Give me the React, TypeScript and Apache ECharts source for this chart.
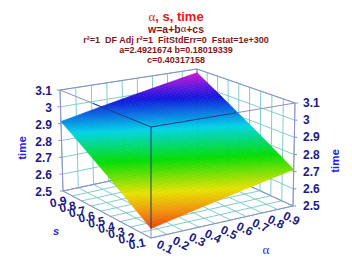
import React, { useEffect, useRef } from "react";
import * as echarts from "echarts";

const titleMain = "{g|α}, s, time";
const titleEq = "w=a+b{g|α}+cs";
const titleStats = "r²=1  DF Adj r²=1  FitStdErr=0  Fstat=1e+300";
const titleCoefAB = "a=2.4921674 b=0.18019339";
const titleCoefC = "c=0.40317158";

const alphaTicks = [0.1, 0.2, 0.3, 0.4, 0.5, 0.6, 0.7, 0.8, 0.9];
const sTicks = [0.1, 0.2, 0.3, 0.4, 0.5, 0.6, 0.7, 0.8, 0.9];
const zTicks = [2.5, 2.6, 2.7, 2.8, 2.9, 3, 3.1];
const alphaGrid = [0.1, 0.2, 0.3, 0.4, 0.5, 0.6, 0.7, 0.8, 0.9, 1];
const sGrid = [0.1, 0.2, 0.3, 0.4, 0.5, 0.6, 0.7, 0.8, 0.9, 1];
// time at (sGrid row, alphaGrid column)
const timeValues = [
  [2.551, 2.569, 2.587, 2.605, 2.623, 2.641, 2.659, 2.677, 2.695, 2.713],
  [2.591, 2.609, 2.627, 2.645, 2.663, 2.681, 2.699, 2.717, 2.735, 2.753],
  [2.631, 2.649, 2.667, 2.685, 2.703, 2.721, 2.739, 2.757, 2.775, 2.793],
  [2.671, 2.689, 2.708, 2.726, 2.744, 2.762, 2.78, 2.798, 2.816, 2.834],
  [2.712, 2.73, 2.748, 2.766, 2.784, 2.802, 2.82, 2.838, 2.856, 2.874],
  [2.752, 2.77, 2.788, 2.806, 2.824, 2.842, 2.86, 2.878, 2.896, 2.914],
  [2.792, 2.81, 2.829, 2.847, 2.865, 2.883, 2.901, 2.919, 2.937, 2.955],
  [2.833, 2.851, 2.869, 2.887, 2.905, 2.923, 2.941, 2.959, 2.977, 2.995],
  [2.873, 2.891, 2.909, 2.927, 2.945, 2.963, 2.981, 2.999, 3.017, 3.035],
  [2.913, 2.931, 2.95, 2.968, 2.986, 3.004, 3.022, 3.04, 3.058, 3.076],
];

type P = [number, number];
// corners in order: (a0,s0) front, (a1,s0) right, (a1,s1) back, (a0,s1) left
const floorQuad: P[] = [[151, 238], [293, 206], [198, 162], [63, 191]];
const topQuad: P[] = [[151, 127], [295, 103], [197, 69], [60, 90]];

function homography(q: P[]) {
  const [[x0, y0], [x1, y1], [x2, y2], [x3, y3]] = q;
  const dx1 = x1 - x2, dx2 = x3 - x2, sx = x0 - x1 + x2 - x3;
  const dy1 = y1 - y2, dy2 = y3 - y2, sy = y0 - y1 + y2 - y3;
  const det = dx1 * dy2 - dx2 * dy1;
  const g = (sx * dy2 - dx2 * sy) / det;
  const h = (dx1 * sy - sx * dy1) / det;
  const a = x1 - x0 + g * x1, b = x3 - x0 + h * x3, c = x0;
  const d = y1 - y0 + g * y1, e = y3 - y0 + h * y3, f = y0;
  return (u: number, v: number): P => {
    const w = g * u + h * v + 1;
    return [(a * u + b * v + c) / w, (d * u + e * v + f) / w];
  };
}
const floorMap = homography(floorQuad);
const topMap = homography(topQuad);
const A0 = 0.1, A1 = 1, S0 = 0.1, S1 = 1, Z0 = 2.5, Z1 = 3.1;
function project(alpha: number, s: number, z: number): P {
  const u = (alpha - A0) / (A1 - A0);
  const v = (s - S0) / (S1 - S0);
  const t = (z - Z0) / (Z1 - Z0);
  const b = floorMap(u, v);
  const o = topMap(u, v);
  return [b[0] + (o[0] - b[0]) * t, b[1] + (o[1] - b[1]) * t];
}

const rainbow: [number, number, number, number][] = [
  [0, 240, 70, 10],
  [0.1, 245, 150, 10],
  [0.21, 235, 230, 0],
  [0.41, 0, 225, 0],
  [0.61, 0, 215, 235],
  [0.82, 15, 20, 225],
  [0.92, 120, 20, 225],
  [1, 215, 15, 215],
];
const colorOf = (w: number) => {
  const t = Math.max(0, Math.min(1, (w - 2.551) / (3.076 - 2.551)));
  for (let i = 1; i < rainbow.length; i++) {
    if (t <= rainbow[i][0]) {
      const a = rainbow[i - 1], b = rainbow[i];
      const f = (t - a[0]) / (b[0] - a[0]);
      return [1, 2, 3].map((k) => a[k] + (b[k] - a[k]) * f);
    }
  }
  return rainbow[rainbow.length - 1].slice(1);
};
const rgb = (c: number[], k = 1) =>
  `rgb(${c.map((v) => Math.round(v * k)).join(",")})`;

const BOX = "#8e8ecb";
const GRID = "#84cccc";
const DARK = "#1c3f86";
const NAVY = "#1a1a84";
const BLUE = "#2222f0";
const seg = (p: P, q: P, stroke: string, lineWidth = 1) => ({
  type: "line",
  shape: { x1: p[0], y1: p[1], x2: q[0], y2: q[1] },
  style: { stroke, lineWidth },
  silent: true,
});
const lerp = (p: P, q: P, t: number): P => [p[0] + (q[0] - p[0]) * t, p[1] + (q[1] - p[1]) * t];
const label = (text: string, x: number, y: number, font: string, fill: string, align = "center", rotation = 0) => ({
  type: "text",
  x,
  y,
  rotation,
  silent: true,
  style: { text, x: 0, y: 0, font, fill, align, verticalAlign: "middle" },
});
const TICK_FONT = "bold 12px 'Liberation Sans'";

const custom = (data: any[], renderItem: any) => ({
  type: "custom",
  coordinateSystem: "none",
  silent: true,
  data,
  renderItem,
});

const heading = (text: string, top: number, size: number, color: string) => ({
  text,
  left: "center",
  top,
  padding: 0,
  textStyle: {
    color,
    fontFamily: "Liberation Sans",
    fontWeight: "bold",
    fontSize: size,
    lineHeight: size + 1,
    rich: {
      g: { fontFamily: "Liberation Serif", fontWeight: "normal", fontSize: size, color },
    },
  },
});

const surfaceCells: number[][] = [];
sGrid.forEach((s, j) =>
  alphaGrid.forEach((a, i) => {
    surfaceCells.push([i, j, a, s, timeValues[j][i]]);
  })
);
const SUB = 5;

export default function App() {
  const ref = useRef<HTMLDivElement>(null);
  useEffect(() => {
    const chart = echarts.init(ref.current!, undefined, { renderer: "svg" });
    const series = [
      // wall and floor grid, constant alpha
      custom(alphaGrid.map((v) => [v]), (_: any, api: any) => {
        const a = api.value(0);
        return {
          type: "group",
          children: [
            seg(project(a, S0, Z0), project(a, S1, Z0), GRID),
            seg(project(a, S1, Z0), project(a, S1, Z1), GRID),
          ],
        };
      }),
      custom(sGrid.map((v) => [v]), (_: any, api: any) => {
        const s = api.value(0);
        return {
          type: "group",
          children: [
            seg(project(A0, s, Z0), project(A1, s, Z0), GRID),
            seg(project(A1, s, Z0), project(A1, s, Z1), GRID),
          ],
        };
      }),
      custom(zTicks.map((v) => [v]), (_: any, api: any) => {
        const z = api.value(0);
        const l = project(A0, S1, z);
        const r = project(A1, S0, z);
        return {
          type: "group",
          children: [
            seg(l, project(A1, S1, z), GRID),
            seg(project(A1, S1, z), r, GRID),
            seg([l[0] - 3, l[1]], l, BOX),
            seg(r, [r[0] + 3, r[1]], BOX),
            label(String(z), 52, l[1] + 1, TICK_FONT, NAVY, "right"),
            label(String(z), 303, r[1], TICK_FONT, NAVY, "left"),
          ],
        };
      }),
      // box
      custom([[0]], () => {
        const c = (a: number, s: number, z: number) => project(a, s, z);
        return {
          type: "group",
          children: [
            seg(c(A0, S0, Z0), c(A1, S0, Z0), BOX),
            seg(c(A0, S0, Z0), c(A0, S1, Z0), BOX),
            seg(c(A0, S1, Z0), c(A1, S1, Z0), BOX),
            seg(c(A1, S0, Z0), c(A1, S1, Z0), BOX),
            seg(c(A0, S1, Z1), c(A1, S1, Z1), BOX),
            seg(c(A1, S0, Z1), c(A1, S1, Z1), BOX),
            seg(c(A0, S0, Z1), c(A0, S1, Z1), BOX),
            seg(c(A0, S0, Z1), c(A1, S0, Z1), BOX),
            seg(c(A0, S1, Z0), c(A0, S1, Z1), BOX),
            seg(c(A1, S0, Z0), c(A1, S0, Z1), BOX),
            seg(c(A1, S1, Z0), c(A1, S1, Z1), BOX),
            seg(c(A0, S0, Z0), c(A0, S0, Z1), BOX),
          ],
        };
      }),
      // surface
      custom(surfaceCells, (_: any, api: any) => {
        const i = api.value(0), j = api.value(1);
        if (i >= alphaGrid.length - 1 || j >= sGrid.length - 1) return null;
        const a0 = alphaGrid[i], a1 = alphaGrid[i + 1];
        const s0 = sGrid[j], s1 = sGrid[j + 1];
        const w00 = timeValues[j][i], w10 = timeValues[j][i + 1];
        const w01 = timeValues[j + 1][i], w11 = timeValues[j + 1][i + 1];
        const at = (u: number, v: number): P => {
          const w = w00 * (1 - u) * (1 - v) + w10 * u * (1 - v) + w01 * (1 - u) * v + w11 * u * v;
          return project(a0 + (a1 - a0) * u, s0 + (s1 - s0) * v, w);
        };
        const children: any[] = [];
        for (let m = 0; m < SUB; m++) {
          for (let n = 0; n < SUB; n++) {
            const u = m / SUB, v = n / SUB, d = 1 / SUB;
            const um = u + d / 2, vm = v + d / 2;
            const wm = w00 * (1 - um) * (1 - vm) + w10 * um * (1 - vm) + w01 * (1 - um) * vm + w11 * um * vm;
            const col = colorOf(wm);
            children.push({
              type: "polygon",
              silent: true,
              shape: { points: [at(u, v), at(u + d, v), at(u + d, v + d), at(u, v + d)] },
              style: { fill: rgb(col), stroke: rgb(col, 0.94), lineWidth: 0.5 },
            });
          }
        }
        return { type: "group", children };
      }),
      // front box edges seen over the surface
      custom([[0]], () => {
        const ft = project(A0, S0, Z1);
        const fb = project(A0, S0, timeValues[0][0]);
        const lt = project(A0, S1, Z1);
        const rt = project(A1, S0, Z1);
        return {
          type: "group",
          children: [
            seg(ft, fb, DARK),
            seg(lerp(lt, ft, 0.36), ft, DARK),
            seg(lerp(rt, ft, 0.41), ft, DARK),
          ],
        };
      }),
      // alpha tick labels
      custom(alphaTicks.map((v) => [v]), (_: any, api: any) => {
        const a = api.value(0);
        const p = project(a, S0, Z0);
        return label(a.toFixed(1), p[0] + 14, p[1] + 9, TICK_FONT, NAVY, "center", -0.45);
      }),
      // s tick labels, drawn from the far end so that low values sit on top
      custom([...sTicks].reverse().map((v) => [v]), (_: any, api: any) => {
        const s = api.value(0);
        const p = project(A0, s, Z0);
        return label(s.toFixed(1), p[0] - 14, p[1] + 6, TICK_FONT, NAVY, "center", 0.2);
      }),
      // axis names
      custom([[0]], () => ({
        type: "group",
        children: [
          label("time", 22, 148, "bold 11.5px 'Liberation Sans'", BLUE, "center", Math.PI / 2),
          label("time", 335, 161, "bold 11.5px 'Liberation Sans'", BLUE, "center", Math.PI / 2),
          label("s", 56, 231, "italic bold 11px 'Liberation Sans'", BLUE),
          label("α", 266, 249, "13px 'Liberation Serif'", BLUE),
        ],
      })),
    ];
    chart.setOption({
      animation: false,
      backgroundColor: "#ffffff",
      title: [
        heading(titleMain, 9, 13, "#f01414"),
        heading(titleEq, 23, 10.5, "#801818"),
        heading(titleStats, 34.5, 9, "#801818"),
        heading(titleCoefAB, 45, 9, "#801818"),
        heading(titleCoefC, 55, 9, "#801818"),
      ],
      series,
    });
    return () => chart.dispose();
  }, []);
  return <div ref={ref} style={{ position: "fixed", left: 0, top: 0, width: 352, height: 264 }} />;
}
